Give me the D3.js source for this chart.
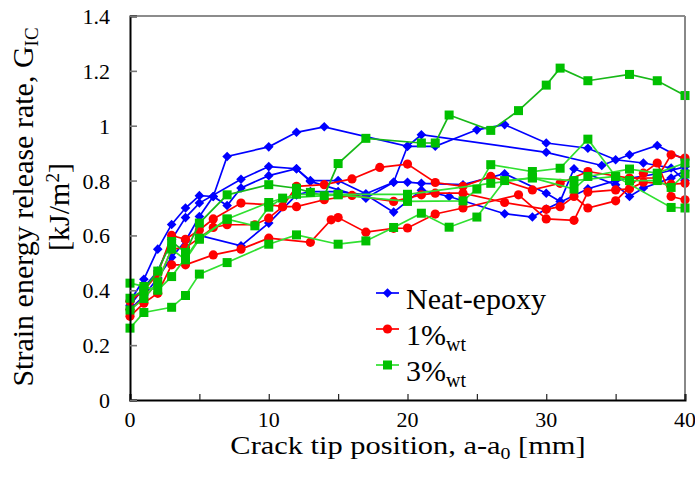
<!DOCTYPE html>
<html>
<head>
<meta charset="utf-8">
<script src="https://cdn.jsdelivr.net/npm/d3@7"></script>
<style>
  html, body { margin: 0; padding: 0; background: #fff; }
  svg { display: block; }
</style>
</head>
<body>
<svg id="chart" width="695" height="493"></svg>
<script>
// ---- data (x: crack tip position [mm], y: G_IC [kJ/m^2]) ----
const neat1 = [[0,0.36],[1,0.44],[2,0.55],[3,0.64],[4,0.70],[5,0.745],[6,0.742],[7,0.888],[10,0.923],[12,0.976],[14,0.996],[20,0.925],[21,0.967],[30,0.903],[34,0.855],[36,0.894],[38,0.928],[40,0.875]];
const neat2 = [[0,0.345],[1,0.41],[2,0.47],[3,0.585],[4,0.665],[5,0.718],[8,0.805],[10,0.851],[12,0.843],[13,0.80],[15,0.80],[17,0.752],[19,0.794],[20,0.925],[22,0.925],[25,0.985],[27,1.004],[30,0.937],[33,0.918],[35,0.876],[37,0.864],[39,0.846],[40,0.80]];
const neat3 = [[0,0.33],[1,0.38],[2,0.445],[3,0.52],[4,0.58],[5,0.669],[6,0.742],[7,0.709],[8,0.773],[10,0.818],[12,0.843],[13,0.797],[17,0.736],[19,0.794],[20,0.794],[21,0.79],[24,0.785],[27,0.825],[30,0.754],[31,0.724],[32,0.843],[35,0.785],[36,0.742],[37,0.773],[39,0.809],[40,0.836]];
const neat4 = [[5,0.60],[8,0.562],[10,0.645],[12,0.748],[13,0.76],[15,0.76],[17,0.748],[19,0.685],[21,0.765],[23,0.742],[27,0.679],[29,0.667],[30,0.696],[33,0.77],[35,0.80],[38,0.825],[40,0.85]];

const wt1a = [[0,0.36],[1,0.40],[2,0.46],[3,0.60],[4,0.586],[5,0.62],[6,0.66],[8,0.718],[10,0.712],[11,0.705],[12,0.705],[14,0.73],[16,0.746],[19,0.724],[21,0.748],[22,0.754],[24,0.754],[27,0.72],[30,0.695],[31,0.705],[32,0.742],[33,0.70],[35,0.726],[37,0.827],[38,0.864],[39,0.742],[40,0.73]];
const wt1b = [[0,0.33],[1,0.37],[2,0.43],[3,0.55],[4,0.556],[5,0.59],[6,0.629],[7,0.639],[9,0.639],[10,0.663],[11,0.705],[12,0.779],[14,0.785],[16,0.806],[18,0.848],[20,0.86],[22,0.793],[24,0.779],[26,0.815],[29,0.766],[31,0.79],[33,0.833],[36,0.809],[38,0.81],[39,0.894],[40,0.882]];
const wt1c = [[0,0.305],[1,0.353],[2,0.389],[3,0.493],[4,0.493],[6,0.529],[8,0.55],[10,0.59],[13,0.575],[14.5,0.657],[15,0.665],[17,0.612],[19,0.626],[20,0.627],[22,0.678],[24,0.70],[28,0.748],[30,0.66],[32,0.655],[33,0.758],[35,0.766],[36,0.77],[37,0.794],[39,0.787],[40,0.79]];

const wt3a = [[0,0.371],[1,0.40],[2,0.47],[3,0.578],[4,0.538],[5,0.645],[7,0.748],[10,0.785],[12,0.772],[13,0.757],[14,0.745],[15,0.862],[17,0.954],[21,0.937],[22,0.937],[23,1.039],[26,0.983],[28,1.055],[30,1.148],[31,1.21],[33,1.164],[36,1.187],[38,1.164],[40,1.11]];
const wt3b = [[0,0.426],[1,0.414],[2,0.40],[3,0.45],[4,0.518],[5,0.59],[7,0.659],[9,0.635],[10,0.703],[11,0.736],[15,0.748],[20,0.724],[24,0.726],[25,0.769],[26,0.858],[29,0.833],[31,0.845],[33,0.951],[35,0.815],[39,0.702],[40,0.70]];
const wt3c = [[0,0.262],[1,0.319],[3,0.338],[4,0.381],[5,0.459],[7,0.501],[10,0.568],[12,0.602],[15,0.568],[17,0.58],[19,0.629],[21,0.681],[23,0.63],[25,0.667],[27,0.80],[29,0.81],[32,0.769],[33,0.815],[36,0.842],[38,0.827],[40,0.864]];
const wt3d = [[0,0.328],[1,0.37],[2,0.43],[3,0.55],[4,0.511],[5,0.586],[7,0.66],[10,0.72],[12,0.75],[15,0.75],[20,0.75],[26,0.79],[29,0.81],[32,0.80],[35,0.815],[36,0.80],[38,0.80],[39,0.775],[40,0.824]];

const xTicks = [0, 10, 20, 30, 40];
const xMinorTicks = [0, 5, 10, 15, 20, 25, 30, 35, 40];
const yTicks = [0, 0.2, 0.4, 0.6, 0.8, 1.0, 1.2, 1.4];
const legendLabels = ["Neat-epoxy", "1%", "3%"];

// ---- layout ----
const FONT = "'Liberation Serif', 'Times New Roman', 'DejaVu Serif', serif";
const svg = d3.select("#chart");
const L = 130, R = 685, T = 16, B = 400;
const x = d3.scaleLinear().domain([0, 40]).range([L, R]);
const y = d3.scaleLinear().domain([0, 1.4]).range([B, T]);

const blue = "#0000ff", red = "#ff0000", green = "#00c000";

const groups = [
  { data: [neat1, neat2, neat3, neat4], color: blue, line: [blue, blue, blue, blue], sym: "diamond" },
  { data: [wt1a, wt1b, wt1c], color: red, line: [red, red, red], sym: "circle" },
  { data: [wt3a, wt3b, wt3c, wt3d], color: green, line: ["#18b818", "#30e030", "#30e030", "#30e030"], sym: "square" }
];

function marker(g, sym, color, cx, cy) {
  if (sym === "diamond") {
    const h = 4.8;
    g.append("path").attr("d", `M${cx},${cy-h}L${cx+h},${cy}L${cx},${cy+h}L${cx-h},${cy}Z`).attr("fill", color);
  } else if (sym === "circle") {
    g.append("circle").attr("cx", cx).attr("cy", cy).attr("r", 4.6).attr("fill", color);
  } else {
    g.append("rect").attr("x", cx-4.5).attr("y", cy-4.5).attr("width", 9).attr("height", 9).attr("fill", color);
  }
}

const line = d3.line().x(d => x(d[0])).y(d => y(d[1]));
const plot = svg.append("g");
groups.forEach(gr => {
  gr.data.forEach((ser, i) => {
    plot.append("path").datum(ser).attr("d", line).attr("fill", "none")
      .attr("stroke", gr.line[i]).attr("stroke-width", 1.7);
  });
  gr.data.forEach(ser => {
    ser.forEach(d => marker(plot, gr.sym, gr.color, x(d[0]), y(d[1])));
  });
});

// ---- frame & axes ----
svg.append("line").attr("x1", L).attr("x2", R).attr("y1", T).attr("y2", T).attr("stroke", "#666").attr("stroke-width", 1.5);
svg.append("line").attr("x1", R).attr("x2", R).attr("y1", T).attr("y2", B).attr("stroke", "#888").attr("stroke-width", 2);

const xAxis = svg.append("g").attr("transform", `translate(0,${B})`)
  .call(d3.axisBottom(x).tickValues(xMinorTicks).tickSize(-6).tickFormat(""));
xAxis.select(".domain").attr("stroke", "#000").attr("stroke-width", 2);
xAxis.selectAll(".tick line").attr("stroke", "#222").attr("stroke-width", 1.2);

const yAxis = svg.append("g").attr("transform", `translate(${L},0)`)
  .call(d3.axisLeft(y).tickValues(yTicks).tickSize(-7).tickFormat(""));
yAxis.select(".domain").attr("stroke", "#000").attr("stroke-width", 2);
yAxis.selectAll(".tick line").attr("stroke", "#777").attr("stroke-width", 1.6);

// tick labels
svg.append("g").selectAll("text").data(xTicks).join("text")
  .attr("x", d => x(d)).attr("y", 427).attr("text-anchor", "middle")
  .attr("font-family", FONT).attr("font-size", 22).text(d => d);
svg.append("g").selectAll("text").data(yTicks).join("text")
  .attr("x", 110).attr("y", d => y(d) + 8).attr("text-anchor", "end")
  .attr("font-family", FONT).attr("font-size", 22).text(d => d3.format("")(+d.toFixed(1)));

// axis titles
const xt = svg.append("text").attr("transform", "translate(408,454) scale(1.17,1)").attr("text-anchor", "middle")
  .attr("font-family", FONT).attr("font-size", 26);
xt.append("tspan").text("Crack tip position, a-a");
xt.append("tspan").attr("dy", 5).attr("font-size", 17).text("0");
xt.append("tspan").attr("dy", -5).text(" [mm]");

const yt = svg.append("text").attr("transform", "translate(33,207) rotate(-90)").attr("text-anchor", "middle")
  .attr("font-family", FONT).attr("font-size", 30);
yt.append("tspan").text("Strain energy release rate, G");
yt.append("tspan").attr("dy", 5).attr("font-size", 19).text("IC");
const yt2 = svg.append("text").attr("transform", "translate(69,207) rotate(-90)").attr("text-anchor", "middle")
  .attr("font-family", FONT).attr("font-size", 30);
yt2.append("tspan").text("[kJ/m");
yt2.append("tspan").attr("dy", -10).attr("font-size", 19).text("2");
yt2.append("tspan").attr("dy", 10).text("]");

// legend
const legendRows = [
  { label: legendLabels[0], sub: null, color: blue, sym: "diamond", yy: 293 },
  { label: legendLabels[1], sub: "wt", color: red, sym: "circle", yy: 329 },
  { label: legendLabels[2], sub: "wt", color: green, sym: "square", yy: 365 }
];
const lg = svg.append("g");
legendRows.forEach((r) => {
  lg.append("line").attr("x1", 376).attr("x2", 399).attr("y1", r.yy).attr("y2", r.yy)
    .attr("stroke", r.color === green ? "#30e030" : r.color).attr("stroke-width", 1.7);
  marker(lg, r.sym, r.color, 387.5, r.yy);
  const t = lg.append("text").attr("x", 406).attr("y", r.yy + 16)
    .attr("font-family", FONT).attr("font-size", 30);
  t.append("tspan").text(r.label);
  if (r.sub) t.append("tspan").attr("dy", 6).attr("font-size", 20).text(r.sub);
});
</script>
</body>
</html>
